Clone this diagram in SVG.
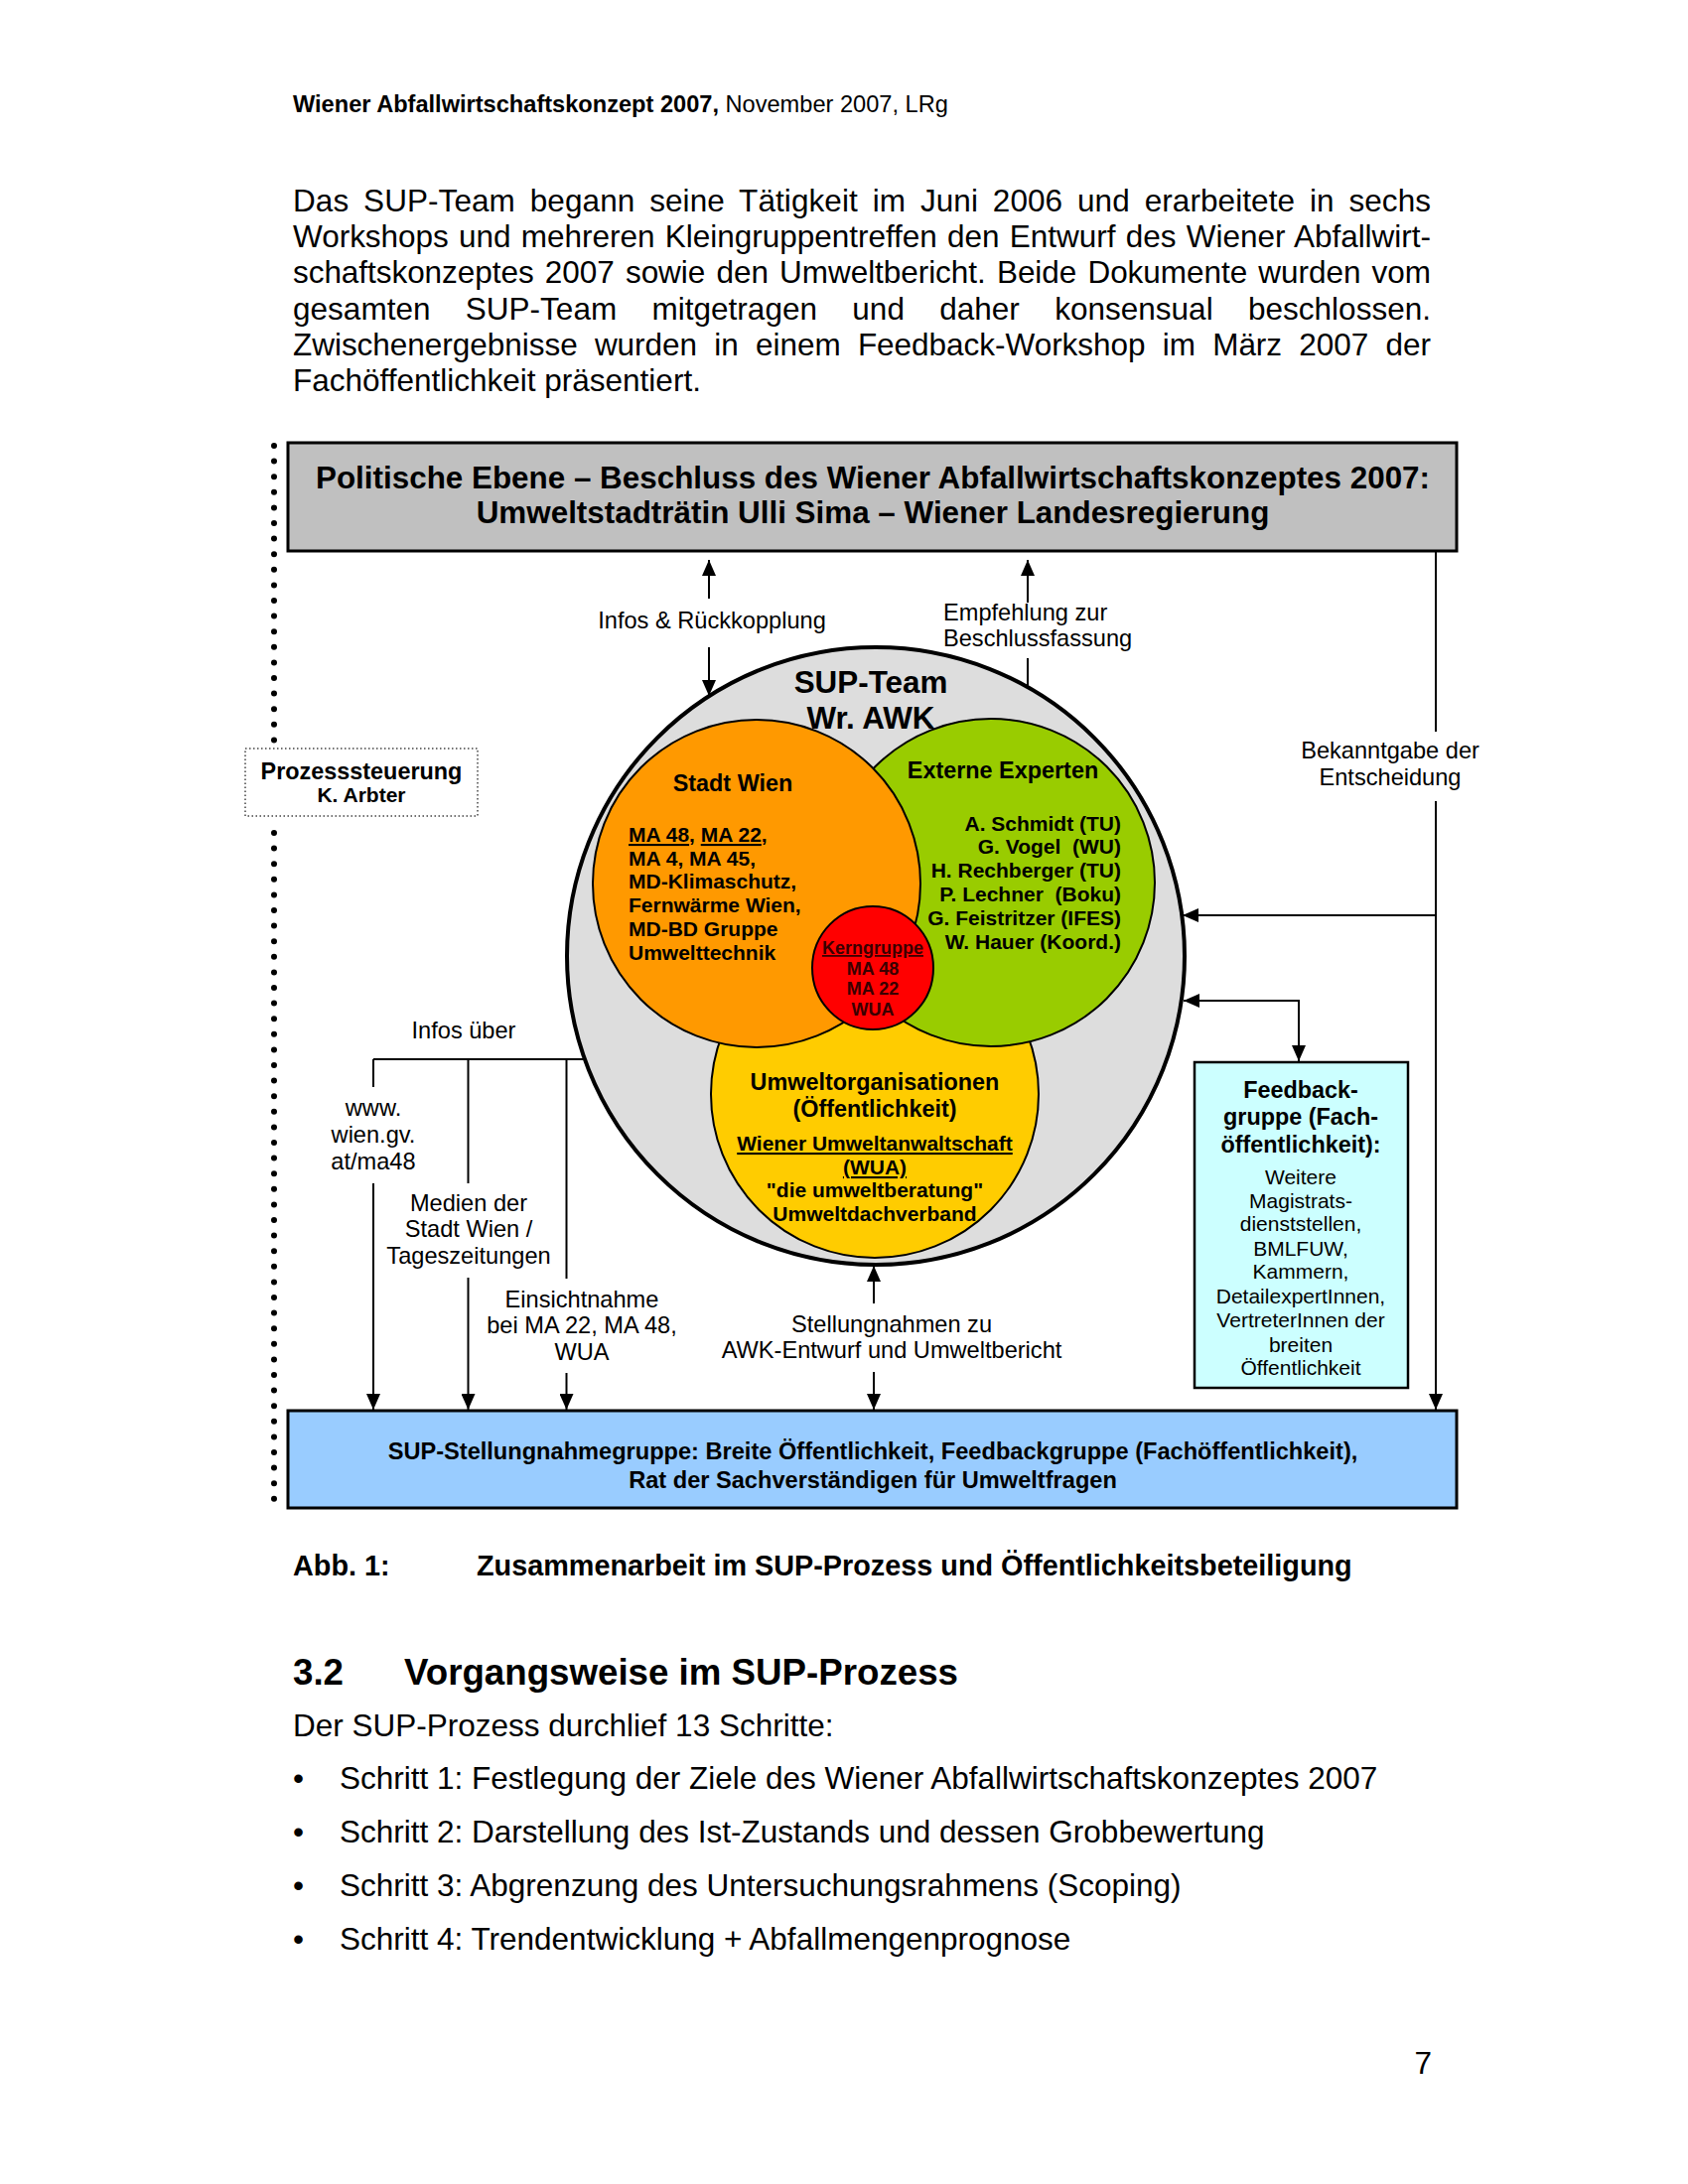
<svg xmlns="http://www.w3.org/2000/svg" width="1700" height="2200" viewBox="0 0 1700 2200">
<defs>
<marker id="ah" viewBox="0 0 16 14" refX="16" refY="7" markerWidth="16" markerHeight="14" markerUnits="userSpaceOnUse" orient="auto-start-reverse"><path d="M0,0 L16,7 L0,14 z" fill="#000"/></marker>
</defs>
<style>
text{font-family:"Liberation Sans",Arial,Helvetica,sans-serif;fill:#000}
.b{font-weight:bold}
.body{font-size:31.5px}
.lbl{font-size:23.6px;text-anchor:middle}
.c{text-anchor:middle}
.e{text-anchor:end}
.conn{stroke:#000;stroke-width:2;fill:none}
.arr{marker-end:url(#ah)}
.u{text-decoration:underline}
.pre{white-space:pre}
.h23{font-size:23.4px;font-weight:bold}
.l21{font-size:21px;font-weight:bold}
.kg{font-size:18px;font-weight:bold;fill:#3a0000;text-anchor:middle}
.fb{font-size:21px;text-anchor:middle}
</style>
<rect x="0" y="0" width="1700" height="2200" fill="#fff"/>

<g id="page-text">
<text x="295" y="113" font-size="23.6"><tspan class="b">Wiener Abfallwirtschaftskonzept 2007,</tspan> November 2007, LRg</text>
<text class="body" x="295" y="213" word-spacing="6" textLength="1146" lengthAdjust="spacing">Das SUP-Team begann seine Tätigkeit im Juni 2006 und erarbeitete in sechs</text>
<text class="body" x="295" y="249.2" word-spacing="1.5" textLength="1146" lengthAdjust="spacing">Workshops und mehreren Kleingruppentreffen den Entwurf des Wiener Abfallwirt-</text>
<text class="body" x="295" y="285.4" word-spacing="2.5" textLength="1146" lengthAdjust="spacing">schaftskonzeptes 2007 sowie den Umweltbericht. Beide Dokumente wurden vom</text>
<text class="body" x="295" y="321.6" word-spacing="26.5" textLength="1146" lengthAdjust="spacing">gesamten SUP-Team mitgetragen und daher konsensual beschlossen.</text>
<text class="body" x="295" y="357.8" word-spacing="8.5" textLength="1146" lengthAdjust="spacing">Zwischenergebnisse wurden in einem Feedback-Workshop im März 2007 der</text>
<text class="body" x="295" y="394">Fachöffentlichkeit präsentiert.</text>

<text x="295" y="1587" font-size="28.8" class="b">Abb. 1:</text>
<text x="480" y="1587" font-size="28.8" class="b">Zusammenarbeit im SUP-Prozess und Öffentlichkeitsbeteiligung</text>

<text x="295" y="1697" font-size="36.7" class="b">3.2</text>
<text x="407" y="1697" font-size="36.7" class="b">Vorgangsweise im SUP-Prozess</text>
<text class="body" x="295" y="1749">Der SUP-Prozess durchlief 13 Schritte:</text>
<text class="body" x="295" y="1802">•</text>
<text class="body" x="342" y="1802">Schritt 1: Festlegung der Ziele des Wiener Abfallwirtschaftskonzeptes 2007</text>
<text class="body" x="295" y="1856">•</text>
<text class="body" x="342" y="1856">Schritt 2: Darstellung des Ist-Zustands und dessen Grobbewertung</text>
<text class="body" x="295" y="1910">•</text>
<text class="body" x="342" y="1910">Schritt 3: Abgrenzung des Untersuchungsrahmens (Scoping)</text>
<text class="body" x="295" y="1964">•</text>
<text class="body" x="342" y="1964">Schritt 4: Trendentwicklung + Abfallmengenprognose</text>
<text class="body e" x="1442" y="2089">7</text>
</g>

<g id="node-politik">
<rect x="290" y="446" width="1177" height="109" fill="#c0c0c0" stroke="#000" stroke-width="3"/>
<text class="b c" x="879" y="492" font-size="31.4">Politische Ebene – Beschluss des Wiener Abfallwirtschaftskonzeptes 2007:</text>
<text class="b c" x="879" y="527" font-size="31.4">Umweltstadträtin Ulli Sima – Wiener Landesregierung</text>
</g>

<g id="node-supteam">
<circle cx="882" cy="963" r="311" fill="#dddddd" stroke="#000" stroke-width="4"/>
<text class="b c" x="877" y="698" font-size="31.4">SUP-Team</text>
<text class="b c" x="877" y="734" font-size="31.4">Wr. AWK</text>
</g>

<g id="node-umweltorg">
<circle cx="881" cy="1102" r="165" fill="#ffcc00" stroke="#000" stroke-width="2"/>
<text class="h23 c" x="881" y="1098">Umweltorganisationen</text>
<text class="h23 c" x="881" y="1125">(Öffentlichkeit)</text>
<text class="l21 c u" x="881" y="1159">Wiener Umweltanwaltschaft</text>
<text class="l21 c u" x="881" y="1183">(WUA)</text>
<text class="l21 c" x="881" y="1206">"die umweltberatung"</text>
<text class="l21 c" x="881" y="1230">Umweltdachverband</text>
</g>

<g id="node-experten">
<circle cx="998" cy="889" r="165" fill="#99cc00" stroke="#000" stroke-width="2"/>
<text class="h23 c" x="1010" y="784">Externe Experten</text>
<text class="l21 e pre" x="1129" y="837">A. Schmidt (TU)</text>
<text class="l21 e pre" x="1129" y="860">G. Vogel  (WU)</text>
<text class="l21 e pre" x="1129" y="884">H. Rechberger (TU)</text>
<text class="l21 e pre" x="1129" y="908">P. Lechner  (Boku)</text>
<text class="l21 e pre" x="1129" y="932">G. Feistritzer (IFES)</text>
<text class="l21 e pre" x="1129" y="956">W. Hauer (Koord.)</text>
</g>

<g id="node-stadtwien">
<circle cx="762" cy="890" r="165" fill="#ff9900" stroke="#000" stroke-width="2"/>
<text class="h23 c" x="738" y="797">Stadt Wien</text>
<text class="l21" x="633" y="848"><tspan class="u">MA 48</tspan>, <tspan class="u">MA 22</tspan>,</text>
<text class="l21" x="633" y="872">MA 4, MA 45,</text>
<text class="l21" x="633" y="895">MD-Klimaschutz,</text>
<text class="l21" x="633" y="919">Fernwärme Wien,</text>
<text class="l21" x="633" y="943">MD-BD Gruppe</text>
<text class="l21" x="633" y="967">Umwelttechnik</text>
</g>

<g id="node-kerngruppe">
<ellipse cx="879" cy="975" rx="61" ry="62" fill="#ff0000" stroke="#000" stroke-width="2"/>
<text class="kg u" x="879" y="961">Kerngruppe</text>
<text class="kg" x="879" y="982">MA 48</text>
<text class="kg" x="879" y="1002">MA 22</text>
<text class="kg" x="879" y="1023">WUA</text>
</g>

<g id="node-feedback">
<rect x="1203" y="1070" width="215" height="328" fill="#ccffff" stroke="#000" stroke-width="2.5"/>
<text class="h23 c" x="1310" y="1106">Feedback-</text>
<text class="h23 c" x="1310" y="1133">gruppe (Fach-</text>
<text class="h23 c" x="1310" y="1161">öffentlichkeit):</text>
<text class="fb" x="1310" y="1193">Weitere</text>
<text class="fb" x="1310" y="1217">Magistrats-</text>
<text class="fb" x="1310" y="1240">dienststellen,</text>
<text class="fb" x="1310" y="1265">BMLFUW,</text>
<text class="fb" x="1310" y="1288">Kammern,</text>
<text class="fb" x="1310" y="1313">DetailexpertInnen,</text>
<text class="fb" x="1310" y="1337">VertreterInnen der</text>
<text class="fb" x="1310" y="1362">breiten</text>
<text class="fb" x="1310" y="1385">Öffentlichkeit</text>
</g>

<g id="node-stellungnahmegruppe">
<rect x="290" y="1421" width="1177" height="98" fill="#99ccff" stroke="#000" stroke-width="3"/>
<text class="b c" font-size="23.6" x="879" y="1470">SUP-Stellungnahmegruppe: Breite Öffentlichkeit, Feedbackgruppe (Fachöffentlichkeit),</text>
<text class="b c" font-size="23.6" x="879" y="1499">Rat der Sachverständigen für Umweltfragen</text>
</g>

<g id="connectors">
<line x1="276" y1="449" x2="276" y2="746.5" stroke="#000" stroke-width="6" stroke-linecap="round" stroke-dasharray="0 15.6"/>
<line x1="276" y1="839" x2="276" y2="1510.5" stroke="#000" stroke-width="6" stroke-linecap="round" stroke-dasharray="0 15.6"/>

<line class="conn arr" x1="714" y1="603" x2="714" y2="564"/>
<line class="conn arr" x1="714" y1="652" x2="714" y2="701"/>
<line class="conn arr" x1="1035" y1="607" x2="1035" y2="564"/>
<line class="conn" x1="1035" y1="663" x2="1035" y2="693"/>

<line class="conn" x1="1446" y1="555" x2="1446" y2="737"/>
<line class="conn arr" x1="1446" y1="807" x2="1446" y2="1420"/>
<line class="conn arr" x1="1446" y1="922" x2="1191" y2="922"/>
<path class="conn" d="M1192,1008 H1308 V1069" marker-start="url(#ah)" marker-end="url(#ah)"/>

<line class="conn" x1="376" y1="1067" x2="590" y2="1067"/>
<line class="conn" x1="376" y1="1067" x2="376" y2="1095"/>
<line class="conn arr" x1="376" y1="1192" x2="376" y2="1420"/>
<line class="conn" x1="471.5" y1="1067" x2="471.5" y2="1192"/>
<line class="conn arr" x1="471.5" y1="1287" x2="471.5" y2="1420"/>
<line class="conn" x1="570.5" y1="1067" x2="570.5" y2="1288"/>
<line class="conn arr" x1="570.5" y1="1383" x2="570.5" y2="1420"/>

<line class="conn arr" x1="880" y1="1313" x2="880" y2="1275"/>
<line class="conn arr" x1="880" y1="1382" x2="880" y2="1420"/>
</g>

<g id="labels">
<text class="lbl" x="717" y="633">Infos &amp; Rückkopplung</text>
<text x="950" y="625" font-size="23.6">Empfehlung zur</text>
<text x="950" y="651" font-size="23.6">Beschlussfassung</text>
<text class="lbl" x="1400" y="764">Bekanntgabe der</text>
<text class="lbl" x="1400" y="791">Entscheidung</text>
<text class="lbl" x="467" y="1046">Infos über</text>
<text class="lbl" x="376" y="1124">www.</text>
<text class="lbl" x="376" y="1151">wien.gv.</text>
<text class="lbl" x="376" y="1178">at/ma48</text>
<text class="lbl" x="472" y="1220">Medien der</text>
<text class="lbl" x="472" y="1246">Stadt Wien /</text>
<text class="lbl" x="472" y="1273">Tageszeitungen</text>
<text class="lbl" x="586" y="1317">Einsichtnahme</text>
<text class="lbl" x="586" y="1343">bei MA 22, MA 48,</text>
<text class="lbl" x="586" y="1370">WUA</text>
<text class="lbl" x="898" y="1342">Stellungnahmen zu</text>
<text class="lbl" x="898" y="1368">AWK-Entwurf und Umweltbericht</text>
</g>

<g id="node-prozesssteuerung">
<rect x="247" y="754" width="234" height="68" fill="#fff" stroke="#444" stroke-width="1.5" stroke-dasharray="1.5 2.5"/>
<text class="h23 c" x="364" y="785">Prozesssteuerung</text>
<text class="l21 c" x="364" y="808">K. Arbter</text>
</g>
</svg>
